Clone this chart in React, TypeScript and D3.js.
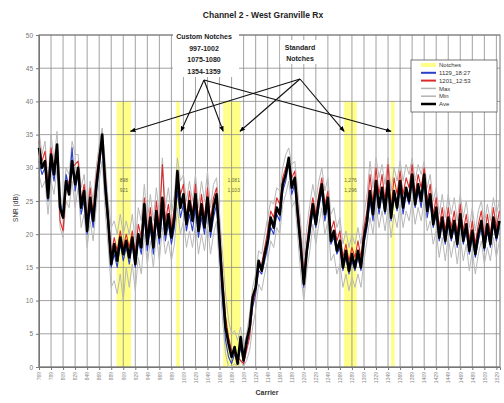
import React, { useEffect, useRef } from "react";
import * as d3 from "d3";

// carriers are sampled every 5th carrier starting at 769
const carrierStart = 769;
const carrierStep = 5;

const aveValues = [
  33, 30, 31, 25.5, 32, 29, 33.5, 24, 22.5, 28,
  26, 31, 27.5, 30, 24, 26.5, 20.5, 25.5, 22, 27,
  31, 35, 27.5, 22, 15.5, 18.5, 16, 19.5, 17, 19,
  16.5, 19.5, 15.5, 20, 18, 24.5, 18.5, 22.5, 18, 23.5,
  19.5, 25.5, 20, 23, 19.5, 22.5, 29.5, 24, 26, 21.5,
  25, 22, 26, 20.5, 24.5, 21, 25.5, 20.5, 24, 26,
  19, 12, 6, 3.5, 1.5, 3, 0.5, 4.5, 1, 4,
  6, 10.5, 12, 16, 14.5, 17, 19, 22.5, 21, 24,
  23, 27.5, 29, 31.5, 27, 28.5, 23, 18, 12.5, 17.5,
  21, 24.5, 21.5, 25, 27.5, 23, 25.5, 19, 20.5, 17.5,
  19, 15, 17.5, 14.5, 17, 15, 17.5, 15, 19.5, 22,
  26.5, 23, 28, 24, 27, 23.5, 28, 22.5, 26.5, 24,
  28, 24, 27, 25, 29, 24.5, 27.5, 25, 29, 23.5,
  26, 21.5, 24, 19.5, 22.5, 19, 22.5, 19.5, 22, 18.5,
  23, 19, 21.5, 17.5, 20.5, 17, 20, 22, 18, 21.5,
  18.5, 22.5, 19.5, 22,
];

const blueValues = [
  31, 29, 30, 25, 30.5, 28, 32, 25, 23, 29,
  27, 33, 26.5, 29, 23, 25, 20, 24, 21, 26,
  30, 34, 26, 21, 15, 17, 15, 18.5, 16, 18,
  15.5, 18.5, 15, 19, 17, 22.5, 17.5, 21, 17, 22,
  18.5, 23.5, 19, 21.5, 18.5, 21, 26.5, 22.5, 24.5, 20.5,
  23, 20.5, 24, 19.5, 22.5, 20, 24, 19.5, 22.5, 24.5,
  17.5, 10, 4, 1.5, 0.5, 2, 0.5, 3, 0.5, 3,
  5, 9, 11, 14.5, 14, 16, 18, 21, 20, 23,
  22, 26.5, 28, 31, 26, 27.5, 22, 17, 12, 17,
  20, 23.5, 21, 24, 26.5, 22, 24.5, 18.5, 19.5, 17,
  18, 14.5, 16.5, 14, 16, 14.5, 16.5, 14.5, 18.5, 21,
  25, 22, 27, 23, 26, 23, 27, 22, 25.5, 23.5,
  27, 23, 26, 24.5, 28, 24, 26.5, 24, 28, 22.5,
  25, 21, 23, 19, 21.5, 18.5, 21.5, 19, 21, 18,
  22, 18.5, 20.5, 17, 19.5, 16.5, 19, 21, 17.5, 20.5,
  18, 21.5, 19, 21,
];

const redValues = [
  34, 31, 32.5, 27, 33, 29.5, 33, 22, 20.5, 27,
  28, 30, 30.5, 31, 25, 27.5, 22, 27, 23, 28.5,
  32, 34.5, 29, 23, 17, 19.5, 17.5, 20.5, 18, 20,
  18, 20.5, 17, 21.5, 19.5, 25.5, 20, 24, 19.5, 25,
  21, 30.5, 22, 24.5, 21, 24, 29, 26, 27.5, 22.5,
  26.5, 23, 27.5, 22, 26, 22.5, 27, 22, 25.5, 27,
  20.5, 13.5, 7.5, 4.5, 2.5, 2, 1.5, 1, 0.5, 2.5,
  4.5, 9.5, 11.5, 15, 15.5, 18, 20.5, 23.5, 22.5, 25.5,
  24.5, 28.5, 30, 31, 28.5, 29.5, 24.5, 19.5, 14, 18.5,
  22.5, 25.5, 23, 26, 28.5, 24.5, 26.5, 20.5, 22, 19,
  20.5, 16.5, 18.5, 16, 18, 16.5, 19, 16.5, 21, 23.5,
  29, 24.5, 30, 26, 29, 25, 30.5, 24, 28.5, 26,
  29.5, 26, 28.5, 27, 30.5, 26, 29, 27, 30, 25,
  27.5, 23, 25.5, 21, 24, 20.5, 24, 21, 23.5, 20,
  24.5, 20.5, 23, 19, 22, 18.5, 21.5, 23.5, 19.5, 23,
  20, 24, 21, 23.5,
];

const maxValues = [
  35.5, 32, 34, 28, 35, 31, 35.5, 26, 24, 30,
  29, 34, 32, 32, 27, 29, 24, 28, 25, 30,
  33.5, 36, 31, 25, 21, 22, 20, 23, 20, 22,
  20, 23, 19, 24, 22, 27.5, 22, 26, 22, 27,
  23, 31.5, 24, 27, 23, 26, 31.5, 28, 29, 25,
  28, 25, 29, 24, 28, 25, 29.5, 24, 27.5, 28.5,
  23, 17, 11, 7, 5, 5.5, 4, 6, 3, 5,
  8, 12, 14, 17.5, 17, 20, 22.5, 25, 24.5, 27,
  26.5, 30, 32, 33, 30.5, 31, 26.5, 21.5, 16, 21,
  24.5, 27.5, 25, 28, 30, 26.5, 28.5, 23, 24, 21,
  22.5, 18.5, 20.5, 18, 20, 18.5, 21, 18.5, 23, 26,
  31, 27, 31.5, 28.5, 30.5, 27.5, 31.5, 26.5, 30, 28,
  31, 28, 30.5, 29, 31.5, 28, 30.5, 29, 31, 27,
  29, 25, 27, 23, 26, 22.5, 26, 23, 25.5, 22,
  26, 22.5, 25, 21, 24, 20.5, 23.5, 25, 21.5, 24.5,
  22, 25.5, 23, 25,
];

const minValues = [
  29, 27, 28, 23, 28, 26, 30, 21, 19.5, 25,
  24, 28, 24, 27, 21, 23, 18, 22, 19, 24,
  28, 31, 23.5, 18, 12, 13, 11, 14, 10, 15,
  12, 15.5, 11.5, 16.5, 14, 20, 15.5, 19, 15, 20,
  16, 21, 17, 19, 16, 18.5, 24, 20, 22, 18,
  20.5, 18, 21.5, 17, 20, 17.5, 21.5, 17, 20, 22,
  14.5, 7, 2, 0, 0, 0.5, 0, 1, 0, 1,
  2.5, 6, 8.5, 12.5, 11.5, 14, 16, 19, 18, 21,
  20, 24.5, 26, 28, 24, 25, 19.5, 14, 10, 14.5,
  17.5, 21.5, 18.5, 21.5, 24, 20, 22, 16, 17, 14,
  15.5, 12, 14, 11.5, 13.5, 12, 14, 12, 16, 19,
  22.5, 20, 24.5, 21, 23.5, 20.5, 24, 19.5, 23, 21,
  24.5, 21, 23.5, 22, 25, 21.5, 24, 22, 25, 20.5,
  22, 18.5, 20.5, 16.5, 19.5, 16, 19.5, 16.5, 19, 15.5,
  19.5, 16, 18.5, 14.5, 17.5, 14, 17, 19, 15.5, 18,
  16, 19.5, 16.5, 19,
];

const xTickLabels = [
  769, 789, 809, 829, 849, 869, 889, 909, 929, 949, 969, 989, 1009,
  1029, 1049, 1069, 1089, 1109, 1129, 1149, 1169, 1189, 1209, 1229,
  1249, 1269, 1289, 1309, 1329, 1349, 1369, 1389, 1409, 1429, 1449,
  1469, 1489, 1509, 1529,
];
const yTicks = [0, 5, 10, 15, 20, 25, 30, 35, 40, 45, 50];

const notchLevel = 40;
const notches = [
  { from: 898, to: 921, label: ["898", "921"] },
  { from: 997, to: 1002, label: null },
  { from: 1075, to: 1080, label: null },
  { from: 1081, to: 1103, label: ["1,081", "1,103"] },
  { from: 1276, to: 1296, label: ["1,276", "1,296"] },
  { from: 1354, to: 1359, label: null },
];
// arrow targets (carrier) for the two callouts
const customTargets = [1005, 1075, 1354];
const standardTargets = [921, 1103, 1276];

const legendItems = [
  { name: "Notches", color: "#ffff88", w: 4 },
  { name: "1129_18:27", color: "#2b3fc8", w: 2 },
  { name: "1201_12:53", color: "#dd2a2a", w: 2 },
  { name: "Max", color: "#b4b4b4", w: 1.5 },
  { name: "Min", color: "#b4b4b4", w: 1.5 },
  { name: "Ave", color: "#000000", w: 2.5 },
];

const FONT = "'Liberation Sans', Arial, sans-serif";

export default function App() {
  const ref = useRef<SVGSVGElement>(null);

  useEffect(() => {
    const svg = d3.select(ref.current);
    svg.selectAll("*").remove();

    const left = 39, right = 500, top = 35, bottom = 367;
    const x = d3.scaleLinear().domain([769, 1535]).range([left, right]);
    const y = d3.scaleLinear().domain([0, 50]).range([bottom, top]);
    const carriers = aveValues.map((_, i) => carrierStart + i * carrierStep);

    svg.append("rect").attr("width", 504).attr("height", 403).attr("fill", "#fff");

    // title
    svg.append("text")
      .attr("x", 263).attr("y", 18)
      .attr("text-anchor", "middle")
      .style("font", `bold 8.5px ${FONT}`)
      .attr("fill", "#222")
      .text("Channel 2 - West Granville Rx");

    // notch columns
    svg.append("g").selectAll("rect")
      .data(notches)
      .enter().append("rect")
      .attr("x", d => x(d.from))
      .attr("width", d => x(d.to + 1) - x(d.from))
      .attr("y", y(notchLevel))
      .attr("height", y(0) - y(notchLevel))
      .attr("fill", "#ffff88");

    // grid
    const grid = svg.append("g").attr("stroke", "#8a8a8a").attr("stroke-width", 0.8);
    grid.selectAll("line.h").data(yTicks).enter().append("line")
      .attr("x1", left).attr("x2", right)
      .attr("y1", d => y(d)).attr("y2", d => y(d));
    grid.selectAll("line.v").data(xTickLabels).enter().append("line")
      .attr("x1", d => x(d)).attr("x2", d => x(d))
      .attr("y1", top).attr("y2", bottom);
    svg.append("rect")
      .attr("x", left).attr("y", top)
      .attr("width", right - left).attr("height", bottom - top)
      .attr("fill", "none").attr("stroke", "#777").attr("stroke-width", 1);

    // notch labels
    const nl = svg.append("g").style("font", `5px ${FONT}`).attr("fill", "#6b6b3a").attr("text-anchor", "middle");
    notches.filter(d => d.label).forEach(d => {
      const cx = (x(d.from) + x(d.to + 1)) / 2;
      nl.append("text").attr("x", cx).attr("y", y(27.8)).text(d.label![0]);
      nl.append("text").attr("x", cx).attr("y", y(26.3)).text(d.label![1]);
    });

    // series
    const line = d3.line<number>()
      .x((_, i) => x(carriers[i]))
      .y(d => y(d));
    const series = [
      { values: maxValues, color: "#b8b8b8", w: 1 },
      { values: minValues, color: "#b8b8b8", w: 1 },
      { values: blueValues, color: "#2b3fc8", w: 1.1 },
      { values: redValues, color: "#dd2a2a", w: 1.1 },
      { values: aveValues, color: "#000", w: 2.6 },
    ];
    svg.append("g").selectAll("path")
      .data(series)
      .enter().append("path")
      .attr("d", d => line(d.values))
      .attr("fill", "none")
      .attr("stroke", d => d.color)
      .attr("stroke-width", d => d.w)
      .attr("stroke-linejoin", "round");

    // axes
    const yAxis = d3.axisLeft(y).tickValues(yTicks).tickSize(3);
    const yg = svg.append("g").attr("transform", `translate(${left},0)`).call(yAxis);
    yg.select(".domain").attr("stroke", "#777");
    yg.selectAll(".tick line").attr("stroke", "#777");
    yg.selectAll(".tick text").style("font", `6.5px ${FONT}`).attr("fill", "#777");

    const xAxis = d3.axisBottom(x).tickValues(xTickLabels).tickSize(3).tickFormat(d => String(d));
    const xg = svg.append("g").attr("transform", `translate(0,${bottom})`).call(xAxis);
    xg.select(".domain").attr("stroke", "#777");
    xg.selectAll(".tick line").attr("stroke", "#777");
    xg.selectAll(".tick text")
      .style("font", `5px ${FONT}`)
      .attr("fill", "#888")
      .attr("text-anchor", "end")
      .attr("transform", "rotate(-90)")
      .attr("x", -5).attr("y", 0).attr("dy", "0.35em");

    svg.append("text")
      .attr("transform", "translate(18,208) rotate(-90)")
      .attr("text-anchor", "middle")
      .style("font", `6.5px ${FONT}`)
      .attr("fill", "#333")
      .text("SNR (dB)");
    svg.append("text")
      .attr("x", 267).attr("y", 395)
      .attr("text-anchor", "middle")
      .style("font", `bold 7px ${FONT}`)
      .attr("fill", "#333")
      .text("Carrier");

    // callouts
    svg.append("defs").append("marker")
      .attr("id", "arr").attr("viewBox", "0 0 10 10")
      .attr("refX", 9).attr("refY", 5)
      .attr("markerWidth", 5).attr("markerHeight", 5)
      .attr("orient", "auto")
      .append("path").attr("d", "M0,1L10,5L0,9Z").attr("fill", "#000");

    const customApex = { x: 204, y: 80 };
    const standardApex = { x: 300, y: 79 };
    const arrows = svg.append("g").attr("stroke", "#111").attr("stroke-width", 1.1);
    customTargets.forEach(c => {
      arrows.append("line")
        .attr("x1", customApex.x).attr("y1", customApex.y)
        .attr("x2", x(c)).attr("y2", y(35.5))
        .attr("marker-end", "url(#arr)");
    });
    standardTargets.forEach(c => {
      arrows.append("line")
        .attr("x1", standardApex.x).attr("y1", standardApex.y)
        .attr("x2", x(c)).attr("y2", y(35.5))
        .attr("marker-end", "url(#arr)");
    });

    svg.append("rect").attr("x", 173).attr("y", 29).attr("width", 66).attr("height", 48).attr("fill", "#fff");
    svg.append("rect").attr("x", 280).attr("y", 40).attr("width", 42).attr("height", 24).attr("fill", "#fff");

    const callText = svg.append("g")
      .style("font", `bold 7px ${FONT}`)
      .attr("fill", "#222")
      .attr("text-anchor", "middle");
    ["Custom Notches", "997-1002", "1075-1080", "1354-1359"].forEach((t, i) => {
      callText.append("text").attr("x", 204).attr("y", 39 + i * 11.5).text(t);
    });
    ["Standard", "Notches"].forEach((t, i) => {
      callText.append("text").attr("x", 300).attr("y", 50 + i * 11).text(t);
    });

    // legend
    const lg = svg.append("g").attr("transform", "translate(411,60)");
    lg.append("rect").attr("width", 86).attr("height", 52)
      .attr("fill", "#fff").attr("stroke", "#555").attr("stroke-width", 0.8);
    legendItems.forEach((d, i) => {
      const yy = 5 + i * 7.8;
      lg.append("line")
        .attr("x1", 10).attr("x2", 25).attr("y1", yy).attr("y2", yy)
        .attr("stroke", d.color).attr("stroke-width", d.w);
      lg.append("text")
        .attr("x", 28).attr("y", yy).attr("dy", "0.35em")
        .style("font", `6px ${FONT}`).attr("fill", "#333")
        .text(d.name);
    });
  }, []);

  return (
    <svg
      ref={ref}
      width={504}
      height={403}
      style={{ position: "absolute", left: 0, top: 0 }}
    />
  );
}
